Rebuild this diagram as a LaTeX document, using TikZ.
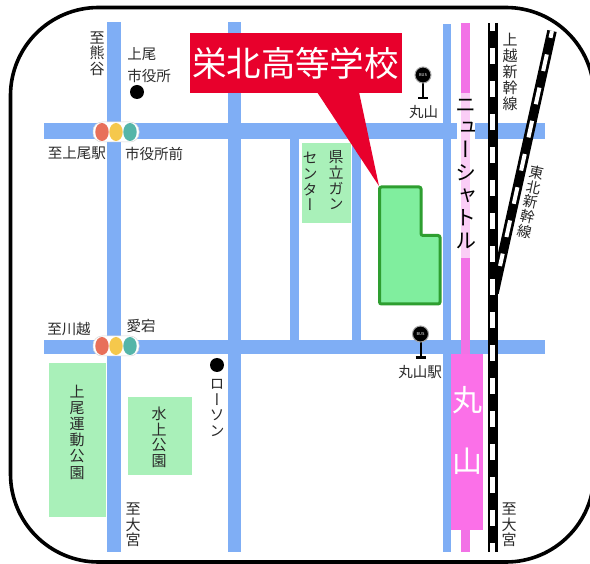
\documentclass[tikz,border=0pt]{standalone}
\usepackage{fontspec}
\setmainfont{Noto Sans CJK JP}
\newfontfamily\vfont[RawFeature=+vert]{Noto Sans CJK JP}
\definecolor{roadc}{HTML}{7FAEF5}
\definecolor{pinkc}{HTML}{F272E6}
\definecolor{stationc}{HTML}{FB70E8}
\definecolor{parkc}{HTML}{A9F0B9}
\definecolor{schoolc}{HTML}{80EE9E}
\definecolor{schoole}{HTML}{2E9E30}
\definecolor{redc}{HTML}{E8002C}
\definecolor{inkc}{HTML}{2A2A2A}
\definecolor{lred}{HTML}{E8705A}
\definecolor{lyel}{HTML}{F5C84C}
\definecolor{lgrn}{HTML}{55B5A8}
\tikzset{
  road/.style={fill=roadc,draw=none},
  park/.style={fill=parkc,draw=none},
  lbl/.style={font=\fontsize{14.5}{15.5}\selectfont,text=inkc,inner sep=0pt,align=center},
  vlbl/.style={font=\fontsize{15}{15.5}\selectfont\vfont,text=inkc,inner sep=0pt,align=center},
  dotmark/.style={circle,fill=black,draw=none,minimum size=14pt,inner sep=0pt},
  busring/.style={circle,fill=black,draw=gray!70,line width=1pt,minimum size=16pt,inner sep=0pt,
     font=\fontsize{4}{4}\selectfont,text=white},
  railb/.style={line width=10pt,draw=black},
  railw/.style={line width=5pt,draw=white}
}
\begin{document}
\begin{tikzpicture}[x=1pt,y=-1pt]
\useasboundingbox (0,0) rectangle (590,564);
\fill[white] (0,0) rectangle (590,564);
% roads
\fill[road] (107,22) rectangle (121,552);
\fill[road] (228,22) rectangle (241,552);
\fill[road] (443,24) rectangle (451,552);
\fill[road] (290,139) rectangle (299,340);
\fill[road] (352,139) rectangle (361,340);
\fill[road] (44,123) rectangle (545,139);
\fill[road] (44,340) rectangle (545,354);
% shuttle line
\fill[pinkc] (461,23) rectangle (470,552);
\fill[stationc] (451,354) rectangle (483,530);
\fill[white] (457,93) rectangle (475,258);
\fill[pinkc,opacity=.35] (461,93) rectangle (470,258);
% rails
\draw[railb,line width=9.5pt] (552,31) -- (494,293);
\draw[railw,line width=4pt,dash pattern=on 17pt off 17pt,dash phase=10pt] (552,31) -- (500,266);
\draw[railb] (492.5,23) -- (492.5,552);
\draw[railw,dash pattern=on 16pt off 17pt,dash phase=8pt] (492.5,23) -- (492.5,552);
% parks
\fill[park] (49,363) rectangle (106,517);
\fill[park] (128,397) rectangle (192,475);
\fill[park] (302,143) rectangle (351,223);
% pointer, school
\fill[redc] (317,92) -- (359,92) -- (379,186) -- cycle;
\node[fill=redc,text=white,inner sep=0pt,minimum width=212pt,minimum height=60pt,
      font=\fontsize{34.5}{36}\selectfont] (title) at (295.5,63) {栄北高等学校};
\draw[fill=schoolc,draw=schoole,line width=3pt,rounded corners=2pt]
  (379.5,187) -- (421,187) -- (421,235.5) -- (440,235.5) -- (440,304) -- (379.5,304) -- cycle;
% traffic lights
\foreach \nm/\yy in {a/132,b/346}{
  \fill[white,draw=gray!30,line width=.5pt,rounded corners=9pt] (93,\yy-10) rectangle (139,\yy+10);
  \fill[lred] (102,\yy) ellipse [x radius=6.7pt,y radius=9pt];
  \fill[lyel] (116,\yy) ellipse [x radius=6.7pt,y radius=9pt];
  \fill[lgrn] (130,\yy) ellipse [x radius=6.7pt,y radius=9pt];
}
% markers
\node[dotmark] (cityhall) at (137,92) {};
\node[dotmark] (lawson) at (217,365) {};
% bus stops
\draw[black,line width=2pt] (423,75) -- (423,98);
\draw[black,line width=2.4pt] (418,98) -- (428,98);
\node[busring] (bus1) at (423,75) {BUS};
\draw[black,line width=2pt] (420.5,334) -- (420.5,357);
\draw[black,line width=2.4pt] (415.5,357.5) -- (425.5,357.5);
\node[busring] (bus2) at (420.5,334) {BUS};
% labels
\node[vlbl] (l1) at (97,53.5) {至\\熊\\谷};
\node[lbl,align=left,font=\fontsize{14.5}{21.5}\selectfont] (l2) at (149,65) {上尾\\市役所};
\node[lbl] (l3) at (77,153) {至上尾駅};
\node[lbl] (l4) at (154,154) {市役所前};
\node[lbl] (l5) at (69,329.5) {至川越};
\node[lbl] (l6) at (141,326) {愛宕};
\node[vlbl,font=\fontsize{15}{16.2}\selectfont\vfont] (l7) at (77,432) {上\\尾\\運\\動\\公\\園};
\node[vlbl] (l8) at (159,437.5) {水\\上\\公\\園};
\node[vlbl] (l9) at (133,525) {至\\大\\宮};
\node[vlbl] (l10) at (217,408) {ロ\\ー\\ソ\\ン};
\node[vlbl,font=\fontsize{15}{15.7}\selectfont\vfont] (l11) at (336,180.5) {県\\立\\ガ\\ン};
\node[vlbl,font=\fontsize{15}{15.7}\selectfont\vfont] (l12) at (310,181.5) {セ\\ン\\タ\\ー};
\node[lbl] (l13) at (423.5,112) {丸山};
\node[lbl] (l14) at (420,372) {丸山駅};
\node[vlbl,font=\fontsize{15}{16}\selectfont\vfont] (l15) at (510,72) {上\\越\\新\\幹\\線};
\node[vlbl,rotate=-12,font=\fontsize{14.5}{15}\selectfont\vfont] (l16) at (530.5,202) {東\\北\\新\\幹\\線};
\node[vlbl] (l17) at (509,525) {至\\大\\宮};
\node[vlbl,text=black,font=\fontsize{21}{22.6}\selectfont\vfont] (l18) at (465.5,174) {ニ\\ュ\\ー\\シ\\ャ\\ト\\ル};
\node[inner sep=0pt,text=white,font=\fontsize{30}{30}\selectfont] (l19) at (467,400) {丸};
\node[inner sep=0pt,text=white,font=\fontsize{30}{30}\selectfont] (l20) at (467,461) {山};
% frame
\draw[black,line width=3.6pt,rounded corners=88pt] (10.5,7.5) rectangle (594,562);
\end{tikzpicture}
\end{document}
